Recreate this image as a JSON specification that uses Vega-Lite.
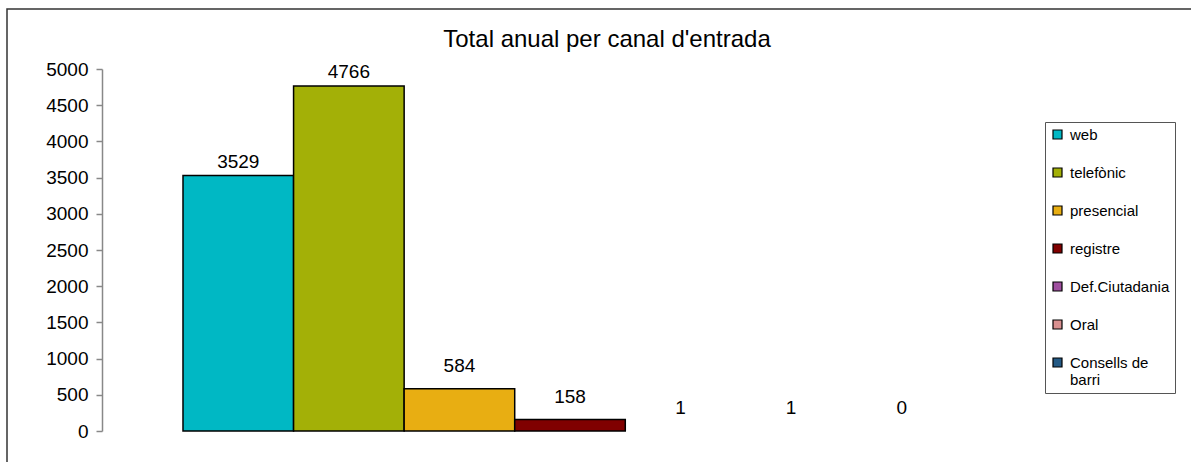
{
  "$schema": "https://vega.github.io/schema/vega-lite/v6.json",
  "autosize": {"type": "none"},
  "padding": {"left": 7, "top": 9, "right": 0, "bottom": 0},
  "width": 1200,
  "height": 470,
  "background": "white",
  "config": {
    "view": {"stroke": "#333333", "strokeWidth": 1.5},
    "font": "Liberation Sans"
  },
  "title": {
    "text": "Total anual per canal d'entrada",
    "font": "Liberation Sans",
    "fontSize": 24,
    "fontWeight": "normal",
    "color": "#000000",
    "anchor": "middle",
    "frame": "group",
    "baseline": "alphabetic",
    "offset": -62,
    "dx": 0
  },
  "data": {
    "values": [
      {"canal": "web", "total": 3529},
      {"canal": "telefònic", "total": 4766},
      {"canal": "presencial", "total": 584},
      {"canal": "registre", "total": 158},
      {"canal": "Def.Ciutadania", "total": 1},
      {"canal": "Oral", "total": 1},
      {"canal": "Consells de barri", "total": 0}
    ]
  },
  "encoding": {
    "x": {
      "field": "canal",
      "type": "nominal",
      "sort": null,
      "scale": {"range": [176, 950], "paddingInner": 0, "paddingOuter": 0},
      "axis": null
    },
    "y": {
      "field": "total",
      "type": "quantitative",
      "scale": {"domain": [0, 5000], "range": [422, 60], "nice": false, "zero": true},
      "axis": {
        "title": null,
        "offset": -95,
        "values": [0, 500, 1000, 1500, 2000, 2500, 3000, 3500, 4000, 4500, 5000],
        "format": "d",
        "grid": false,
        "domainColor": "#888888",
        "domainWidth": 1.5,
        "tickColor": "#888888",
        "tickSize": 6,
        "tickWidth": 1.5,
        "labelFont": "Liberation Sans",
        "labelFontSize": 19,
        "labelColor": "#000000",
        "labelPadding": 8
      }
    }
  },
  "layer": [
    {
      "mark": {"type": "bar", "stroke": "#000000", "strokeWidth": 1.5},
      "encoding": {
        "strokeOpacity": {
          "condition": {"test": "datum.total < 10", "value": 0},
          "value": 1
        },
        "color": {
          "field": "canal",
          "type": "nominal",
          "sort": null,
          "scale": {
            "domain": ["web", "telefònic", "presencial", "registre", "Def.Ciutadania", "Oral", "Consells de barri"],
            "range": ["#00B8C4", "#A3B007", "#E8AE12", "#800000", "#A050A0", "#D99090", "#245A85"]
          },
          "legend": {
            "title": null,
            "orient": "none",
            "legendX": 1038,
            "legendY": 113,
            "direction": "vertical",
            "strokeColor": "#555555",
            "fillColor": "white",
            "padding": 5,
            "symbolType": "square",
            "symbolSize": 81,
            "symbolStrokeColor": "#000000",
            "symbolStrokeWidth": 1.2,
            "symbolOpacity": 1,
            "labelFont": "Liberation Sans",
            "labelFontSize": 15,
            "labelColor": "#000000",
            "labelOffset": 5,
            "labelLimit": 200,
            "rowPadding": 22,
            "labelExpr": "datum.label == 'Consells de barri' ? ['Consells de', 'barri'] : datum.label",
            "labelBaseline": "alphabetic",
            "labelLineHeight": 18,
            "encode": {"labels": {"update": {"dy": {"value": 5}}}}
          }
        }
      }
    },
    {
      "transform": [{"filter": "datum.total >= 1000"}],
      "mark": {"type": "text", "baseline": "bottom", "dy": -4, "fontSize": 19, "font": "Liberation Sans", "color": "#000000"},
      "encoding": {"text": {"field": "total", "type": "quantitative"}}
    },
    {
      "transform": [{"filter": "datum.total < 1000"}],
      "mark": {"type": "text", "baseline": "bottom", "dy": -13, "fontSize": 19, "font": "Liberation Sans", "color": "#000000"},
      "encoding": {"text": {"field": "total", "type": "quantitative"}}
    }
  ]
}
